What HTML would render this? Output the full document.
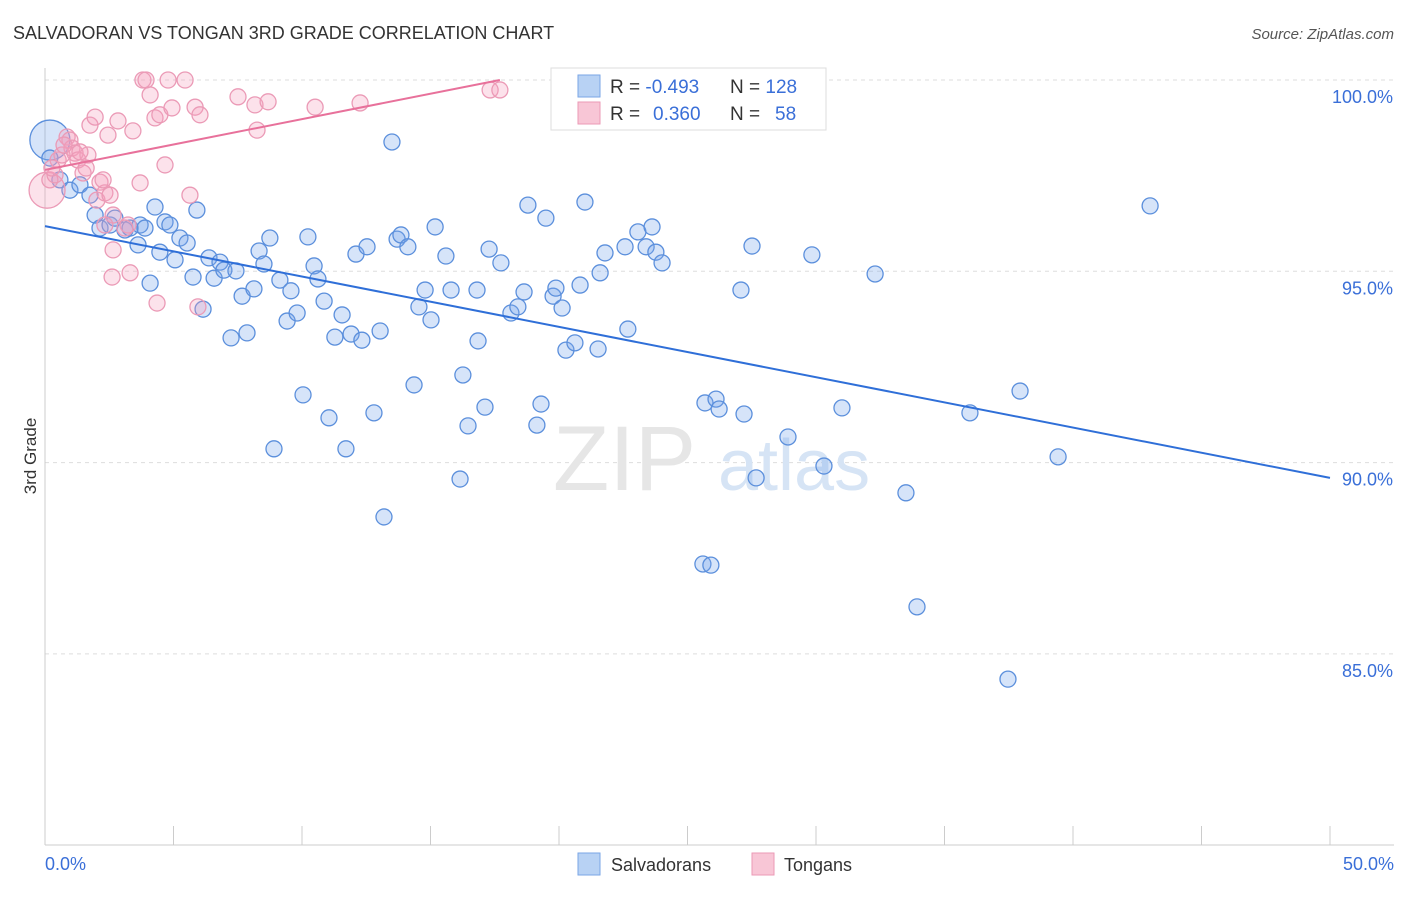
<!DOCTYPE html>
<html><head><meta charset="utf-8"><style>
body{margin:0;background:#fff;font-family:"Liberation Sans",sans-serif;}
svg text{font-family:"Liberation Sans",sans-serif;}
</style></head><body>
<svg id="chart" width="1406" height="892">
<text x="13" y="39" font-size="18" fill="#333">SALVADORAN VS TONGAN 3RD GRADE CORRELATION CHART</text>
<text x="1394" y="39" font-size="15" fill="#555" text-anchor="end" font-style="italic">Source: ZipAtlas.com</text>
<g id="grid"></g>
<g><text x="553" y="490" font-size="92" fill="#e6e6e6" font-family="Liberation Serif">ZIP</text><text x="718" y="490" font-size="72" fill="#d6e4f5">atlas</text></g>
<g id="axes"></g>
<g id="pts"></g>
<g id="lines"></g>
<text x="36" y="456" font-size="17" fill="#333" text-anchor="middle" transform="rotate(-90 36 456)">3rd Grade</text>
<g>
<rect x="551" y="68" width="275" height="62" fill="#fff" stroke="#ddd"/>
<rect x="578" y="75" width="22" height="22" fill="#b8d2f4" stroke="#7aa6e6"/>
<rect x="578" y="102" width="22" height="22" fill="#f8c6d6" stroke="#eb9ab6"/>
<text x="610" y="93" font-size="19" fill="#333">R = <tspan fill="#3a6fd8">-0.493</tspan><tspan x="730">N = </tspan><tspan fill="#3a6fd8">128</tspan></text>
<text x="610" y="120" font-size="19" fill="#333">R = <tspan x="653" fill="#3a6fd8">0.360</tspan><tspan x="730">N = </tspan><tspan x="775" fill="#3a6fd8">58</tspan></text>
</g>
<g>
<rect x="578" y="853" width="22" height="22" fill="#b8d2f4" stroke="#7aa6e6"/>
<text x="611" y="871" font-size="18" fill="#333">Salvadorans</text>
<rect x="752" y="853" width="22" height="22" fill="#f8c6d6" stroke="#eb9ab6"/>
<text x="784" y="871" font-size="18" fill="#333">Tongans</text>
</g>
</svg>
<script>
const blueX=[0.19,0.19,0.58,0.97,1.36,1.75,1.95,2.14,2.53,2.72,3.11,3.31,3.70,3.62,3.89,4.09,4.28,4.47,4.67,4.86,5.06,5.25,5.53,5.76,5.91,6.15,6.38,6.58,6.81,6.96,7.43,7.24,7.67,7.86,8.13,8.33,8.52,8.75,8.91,9.14,9.42,9.57,9.81,10.04,10.23,10.47,10.62,10.86,11.05,11.28,11.56,11.71,11.91,12.10,12.33,12.53,12.80,13.04,13.19,13.50,13.70,13.85,14.12,14.36,14.55,14.79,15.02,15.18,15.60,15.80,16.15,16.26,16.46,16.81,16.85,17.12,17.28,17.74,18.13,18.40,18.64,18.79,19.14,19.30,19.49,19.77,19.88,20.12,20.27,20.62,20.82,21.01,21.52,21.60,21.79,22.57,22.68,23.07,23.39,23.62,23.77,24.01,24.90,25.60,25.91,25.68,26.11,26.23,27.08,27.20,27.51,27.67,28.91,29.84,30.31,31.01,32.30,33.50,33.93,35.99,37.47,37.94,39.42,43.00];
const blueY=[98.43,97.96,97.39,97.12,97.26,96.99,96.47,96.13,96.21,96.39,96.08,96.13,96.21,95.69,96.13,94.69,96.68,95.50,96.29,96.21,95.30,95.87,95.74,94.85,96.60,94.01,95.35,94.82,95.24,95.03,95.01,93.26,94.35,93.39,94.54,95.53,95.19,95.87,90.36,94.77,93.70,94.49,93.91,91.77,95.90,95.14,94.80,94.22,91.17,93.28,93.86,90.36,93.36,95.45,93.20,95.64,91.30,93.44,88.58,98.38,95.84,95.95,95.64,92.03,94.07,94.51,93.73,96.16,95.40,94.51,89.57,92.29,90.96,94.51,93.18,91.45,95.58,95.22,93.91,94.07,94.46,96.73,90.98,91.53,96.39,94.35,94.56,94.04,92.94,93.13,94.64,96.81,92.97,94.96,95.48,95.64,93.49,96.03,95.64,96.16,95.50,95.22,100.0,87.35,87.32,91.56,91.66,91.40,94.51,91.27,95.66,89.60,90.67,95.43,89.91,91.43,94.93,89.21,86.23,91.30,84.34,91.87,90.15,96.71];
const pinkX=[0.08,0.19,0.39,0.51,0.66,0.86,0.97,1.05,1.17,1.28,1.48,1.67,1.75,1.95,2.02,2.14,2.33,2.45,2.53,2.65,2.84,2.65,3.23,3.31,3.42,3.70,3.81,3.93,4.09,4.28,4.47,4.67,4.79,4.94,5.45,5.64,5.84,5.95,6.03,7.51,8.17,8.25,8.68,10.51,12.26,17.32,17.70,2.61,4.36,2.26,0.27,0.74,1.36,1.60,2.33,3.11];
const pinkY=[97.12,97.39,97.52,97.91,98.04,98.51,98.43,98.22,98.09,97.91,97.57,98.04,98.82,99.03,96.86,97.33,97.05,98.56,96.99,96.47,98.93,95.56,96.21,94.96,98.67,97.31,100,100,99.61,99.01,99.09,97.78,100,99.27,100,96.99,99.29,94.07,99.09,99.56,99.35,98.69,99.43,99.29,99.40,99.74,99.74,94.85,94.17,97.39,97.70,98.30,98.12,97.70,96.21,96.13];
const blueTrend=[96.18,89.60];
const pinkTrend=[97.65,100.0,17.7];
const yTicks=[100,95,90,85];
const yTickLabels=["100.0%","95.0%","90.0%","85.0%"];
const xEndLabels=["0.0%","50.0%"];

const NS="http://www.w3.org/2000/svg";
const X=v=>45+v*25.7, Y=v=>80+(100-v)*38.26;
function mk(tag,attrs,parent){const e=document.createElementNS(NS,tag);for(const k in attrs)e.setAttribute(k,attrs[k]);parent.appendChild(e);return e;}
const grid=document.getElementById('grid'),axes=document.getElementById('axes'),pts=document.getElementById('pts'),lines=document.getElementById('lines');
yTicks.forEach((t,i)=>{
 const l=mk('line',{x1:45,x2:1394,y1:Y(t),y2:Y(t),stroke:'#ddd','stroke-dasharray':'4 4'},grid);
 
 
 const tx=mk('text',{x:1393,y:Y(t)+23,'font-size':18,fill:'#3a6fd8','text-anchor':'end'},axes);
 tx.textContent=yTickLabels[i];
 
 
});
const ya=mk('line',{x1:45,x2:45,y1:68,y2:845,stroke:'#ccc'},axes);


const xa=mk('line',{x1:45,x2:1394,y1:845,y2:845,stroke:'#ccc'},axes);


for(let i=0;i<=10;i++){
 const t=mk('line',{x1:X(i*5),x2:X(i*5),y1:826,y2:845,stroke:'#ccc'},axes);
 
 
}
const xl0=mk('text',{x:45,y:870,'font-size':18,fill:'#3a6fd8'},axes);xl0.textContent=xEndLabels[0];


const xl1=mk('text',{x:1394,y:870,'font-size':18,fill:'#3a6fd8','text-anchor':'end'},axes);xl1.textContent=xEndLabels[1];


blueX.forEach((v,i)=>{
 const c=mk('circle',{cx:X(v),cy:Y(blueY[i]),r:i===0?20:8,fill:'rgba(120,165,235,0.3)',stroke:'#5b8fdc','stroke-width':1.3},pts);
 
 
});
pinkX.forEach((v,i)=>{
 const c=mk('circle',{cx:X(v),cy:Y(pinkY[i]),r:i===0?18:8,fill:'rgba(245,160,190,0.3)',stroke:'#eb9ab6','stroke-width':1.3},pts);
 
 
});
const bl=mk('line',{x1:X(0),y1:Y(blueTrend[0]),x2:X(50),y2:Y(blueTrend[1]),stroke:'#2f6fd8','stroke-width':2},lines);


const pl=mk('line',{x1:X(0),y1:Y(pinkTrend[0]),x2:X(pinkTrend[2]),y2:Y(pinkTrend[1]),stroke:'#e8719b','stroke-width':2},lines);


</script>
</body></html>
